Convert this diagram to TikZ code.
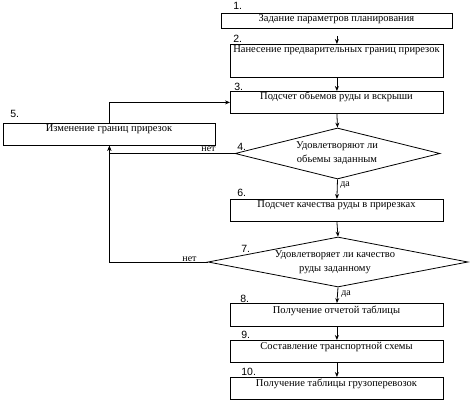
\documentclass[tikz,border=0pt]{standalone}
\usepackage{fontspec}
\setmainfont{Liberation Serif}
\newfontfamily\numfont{Liberation Sans}
\usetikzlibrary{shapes.geometric,arrows.meta}
\begin{document}
\begin{tikzpicture}[x=1pt,y=-1pt,
  line width=0.8pt,
  box/.style={draw, anchor=north west, inner sep=0pt, minimum width=213pt, minimum height=22pt},
  dia/.style={draw, diamond, inner sep=0pt},
  txt/.style={anchor=base, inner sep=0pt, font=\fontsize{10.5}{12}\selectfont},
  num/.style={anchor=base west, inner sep=0pt, font=\numfont\fontsize{10.5}{12}\selectfont},
  yn/.style={inner sep=0pt, font=\fontsize{10}{11}\selectfont},
  arr/.style={-{Stealth[length=5pt,width=4pt]}}]
\useasboundingbox (0,0) rectangle (476,403);
% boxes
\node[box, minimum width=231pt, minimum height=15pt] (b1) at (221,13) {};
\node[box, minimum height=33pt] (b2) at (230,44) {};
\node[box] (b3) at (230,91) {};
\node[box, minimum width=212pt] (b5) at (3,123) {};
\node[box] (b6) at (230,199) {};
\node[box, minimum height=23pt] (b8) at (230,303) {};
\node[box] (b9) at (230,340) {};
\node[box] (b10) at (230,377) {};
\node[dia, minimum width=205pt, minimum height=51pt] (d4) at (337.5,153.5) {};
\node[dia, minimum width=260pt, minimum height=50pt] (d7) at (338,262) {};
% texts
\node[txt] (t1) at (336.5,22) {Задание параметров планирования};
\node[txt] (t2) at (336.5,53) {Нанесение предварительных границ прирезок};
\node[txt] (t3) at (336.5,100) {Подсчет обьемов руды и вскрыши};
\node[txt] (t5) at (109,132) {Изменение границ прирезок};
\node[txt] (t4a) at (337,149) {Удовлетворяют ли};
\node[txt] (t4b) at (337,163) {обьемы заданным};
\node[txt] (t6) at (336.5,208) {Подсчет качества руды в прирезках};
\node[txt] (t7a) at (335,258) {Удовлетворяет ли качество};
\node[txt] (t7b) at (335,271) {руды заданному};
\node[txt] (t8) at (336.5,313) {Получение отчетой таблицы};
\node[txt] (t9) at (336.5,349) {Составление транспортной схемы};
\node[txt] (t10) at (336.5,386) {Получение таблицы грузоперевозок};
% numbers
\node[num] (n1) at (233,10) {1.};
\node[num] (n2) at (233,43) {2.};
\node[num] (n3) at (234,91) {3.};
\node[num] (n5) at (10,118) {5.};
\node[num] (n4) at (237,151) {4.};
\node[num] (n6) at (237,197) {6.};
\node[num] (n7) at (241,252) {7.};
\node[num] (n8) at (240,302) {8.};
\node[num] (n9) at (241,338) {9.};
\node[num] (n10) at (241,375) {10.};
% yes/no
\node[yn, anchor=base east] (no4) at (216,152) {нет};
\node[yn, anchor=base east] (no7) at (197,261) {нет};
\node[yn, anchor=base west] (y4) at (340,187) {да};
\node[yn, anchor=base west] (y7) at (341,295) {да};
% connectors
\draw[arr, shorten <=7pt] (b1.south) -- (b2.north);
\draw[arr] (b2.south) -- (b3.north);
\draw[arr] (b3.south) -- (d4.north);
\draw[arr] (d4.south) -- (b6.north);
\draw[arr] (b6.south) -- (d7.north);
\draw[arr] (d7.south) -- (b8.north);
\draw[arr] (b8.south) -- (b9.north);
\draw[arr] (b9.south) -- (b10.north);
\draw[arr] (d4.west) -| (b5.south);
\draw[arr] (d7.west) -| (b5.south);
\draw[arr] (b5.north) |- (b3.west);
\end{tikzpicture}
\end{document}
